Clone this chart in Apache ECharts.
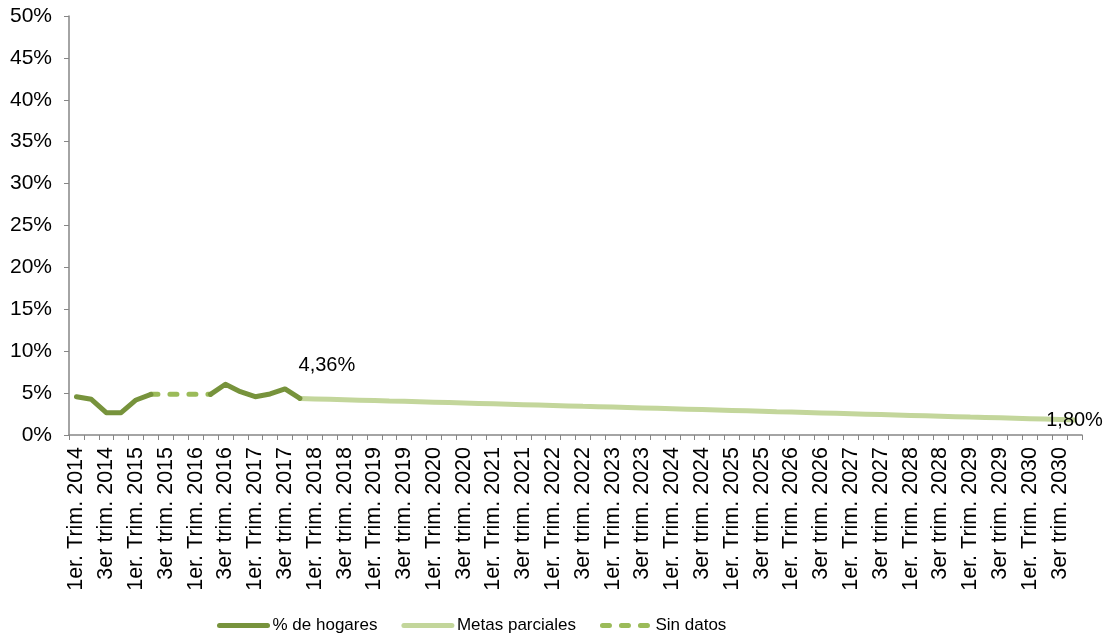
<!DOCTYPE html>
<html>
<head>
<meta charset="utf-8">
<script src="https://cdn.jsdelivr.net/npm/echarts@6/dist/echarts.min.js"></script>
<style>
html,body{margin:0;padding:0;background:#fff;}
#chart{width:1103px;height:639px;}
</style>
</head>
<body>
<div id="chart"></div>
<script>
// años y trimestres del eje x
var years = [2014,2015,2016,2017,2018,2019,2020,2021,2022,2023,2024,2025,2026,2027,2028,2029,2030];
var quarters = ['1er. Trim.', '2do trim.', '3er trim.', '4to trim.'];

// % de hogares (desde 1er trim. 2014), null = sin datos
var hogares = [4.57, 4.26, 2.66, 2.66, 4.18, 4.85, null, null, null, 4.85, 6.05, 5.17, 4.57, 4.90, 5.50, 4.36];
// tramo sin datos (desde indice 5)
var sinDatosStart = 5;
var sinDatos = [4.85, 4.85, 4.85, 4.85, 4.85];
// metas parciales (desde 4to trim. 2017)
var metasStart = 15;
var metas = [4.36,4.31,4.26,4.21,4.16,4.11,4.06,4.02,3.97,3.92,
	3.87,3.82,3.77,3.72,3.67,3.62,3.57,3.52,3.47,3.42,
	3.38,3.33,3.28,3.23,3.18,3.13,3.08,3.03,2.98,2.93,
	2.88,2.83,2.78,2.74,2.69,2.64,2.59,2.54,2.49,2.44,
	2.39,2.34,2.29,2.24,2.19,2.14,2.10,2.05,2.00,1.95,
	1.90,1.85,1.80];

var categories = [];
for (var y = 0; y < years.length; y++) {
	for (var q = 0; q < quarters.length; q++) {
		categories.push(quarters[q] + ' ' + years[y]);
	}
}

function fmt(v) {
	return v.toFixed(2).replace('.', ',') + '%';
}

function pad(arr, start) {
	var out = [];
	for (var i = 0; i < categories.length; i++) {
		var j = i - start;
		out.push(j >= 0 && j < arr.length ? arr[j] : null);
	}
	return out;
}

var font = 'Liberation Sans, Arial, sans-serif';

var hogData = pad(hogares, 0);
var last = hogares.length - 1;
hogData[last] = {
	value: hogares[last],
	symbol: 'circle',
	symbolSize: 2,
	label: {show: true, position: 'top', offset: [27, -17], formatter: fmt(hogares[last]),
		fontFamily: font, fontSize: 20, color: '#000'}
};
var metaData = pad(metas, metasStart);
var lastM = metasStart + metas.length - 1;
metaData[lastM] = {
	value: metas[metas.length - 1],
	symbol: 'circle',
	symbolSize: 2,
	label: {show: true, position: 'inside', offset: [0, 1], formatter: fmt(metas[metas.length - 1]),
		fontFamily: font, fontSize: 20, color: '#000'}
};

var chart = echarts.init(document.getElementById('chart'));
var option = {
	animation: false,
	grid: {left: 69, right: 21, top: 16, bottom: 204},
	legend: {
		bottom: 0,
		left: 212,
		itemWidth: 48,
		itemHeight: 14,
		itemGap: 24,
		itemStyle: {opacity: 0},
		lineStyle: {width: 5},
		textStyle: {fontFamily: font, fontSize: 17, color: '#000'},
		data: ['% de hogares', 'Metas parciales', 'Sin datos']
	},
	xAxis: {
		type: 'category',
		data: categories,
		boundaryGap: true,
		axisLine: {lineStyle: {color: '#868686', width: 1.5}},
		axisTick: {show: true, length: 5, interval: 0, lineStyle: {color: '#868686'}},
		axisLabel: {rotate: 90, interval: 1, margin: 12, fontFamily: font, fontSize: 21.5, color: '#000'}
	},
	yAxis: {
		type: 'value',
		min: 0,
		max: 50,
		interval: 5,
		splitLine: {show: false},
		axisLine: {show: true, lineStyle: {color: '#868686', width: 1.5}},
		axisTick: {show: true, length: 5, lineStyle: {color: '#868686'}},
		axisLabel: {formatter: '{value}%', margin: 17, fontFamily: font, fontSize: 21, color: '#000'}
	},
	series: [
		{
			name: 'Metas parciales',
			type: 'line',
			data: metaData,
			symbol: 'none',
			itemStyle: {color: '#C3D69B'},
			lineStyle: {color: '#C3D69B', width: 5, cap: 'round'},
			z: 2
		},
		{
			name: 'Sin datos',
			type: 'line',
			data: pad(sinDatos, sinDatosStart),
			symbol: 'none',
			itemStyle: {color: '#9BBB59'},
			lineStyle: {color: '#9BBB59', width: 5, type: [7, 12], cap: 'round'},
			z: 3
		},
		{
			name: '% de hogares',
			type: 'line',
			data: hogData,
			connectNulls: false,
			symbol: 'none',
			itemStyle: {color: '#77933C'},
			lineStyle: {color: '#77933C', width: 5, cap: 'round', join: 'round'},
			z: 4
		}
	]
};
chart.setOption(option, true);
</script>
</body>
</html>
